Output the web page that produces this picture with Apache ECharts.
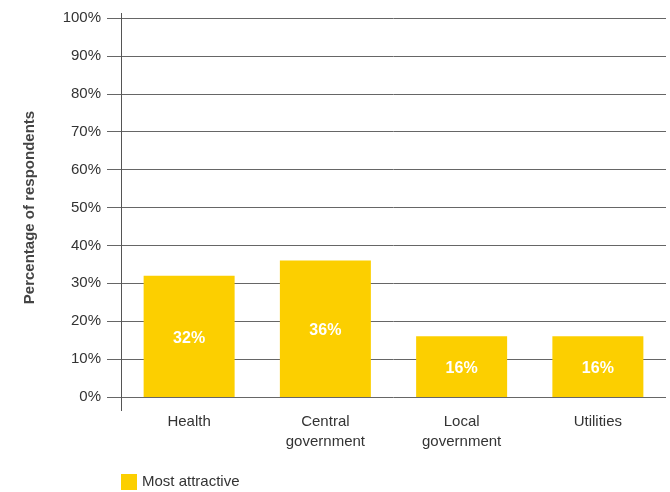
<!DOCTYPE html>
<html>
<head>
<meta charset="utf-8">
<script src="https://cdn.jsdelivr.net/npm/echarts@6/dist/echarts.min.js"></script>
<style>
  html, body { margin: 0; padding: 0; background: #fff; }
  #chart { width: 670px; height: 492px; }
</style>
</head>
<body>
<div id="chart"></div>
<script>
// 数据
var categories = ["Health", "Central\ngovernment", "Local\ngovernment", "Utilities"];
var mostAttractive = [32, 36, 16, 16];
var seriesName = "Most attractive";

(function () {
    var font = "'Liberation Sans', Arial, sans-serif";
    var myChart = echarts.init(document.getElementById("chart"));
    var option = {
        animation: false,
        textStyle: { fontFamily: font },
        grid: {
            left: 121,
            right: 4,
            top: 18,
            bottom: 95,
            containLabel: false
        },
        legend: {
            left: 116,
            top: 469,
            itemWidth: 16,
            itemHeight: 16,
            itemGap: 6,
            icon: "rect",
            textStyle: { color: "#333", fontSize: 15, fontFamily: font },
            data: [seriesName]
        },
        xAxis: {
            type: "category",
            data: categories,
            axisLine: { show: false },
            axisTick: { show: false },
            axisLabel: {
                color: "#333",
                fontSize: 15,
                lineHeight: 20,
                margin: 15,
                fontFamily: font,
                interval: 0
            }
        },
        yAxis: {
            type: "value",
            min: 0,
            max: 100,
            interval: 10,
            name: "Percentage of respondents",
            nameLocation: "middle",
            nameGap: 84,
            nameTextStyle: { color: "#444", fontSize: 15, fontWeight: "bold", fontFamily: font },
            axisLine: { show: false },
            axisTick: {
                show: true,
                length: 14,
                lineStyle: { color: "#666", width: 1 }
            },
            axisLabel: {
                color: "#333",
                fontSize: 15,
                margin: 20,
                fontFamily: font,
                formatter: "{value}%"
            },
            splitLine: { lineStyle: { color: "#666", width: 1 } }
        },
        graphic: [
            {
                type: "line",
                shape: { x1: 121.5, y1: 13, x2: 121.5, y2: 411 },
                style: { stroke: "#555", lineWidth: 1 },
                z: 100
            }
        ],
        series: [
            {
                name: seriesName,
                type: "bar",
                data: mostAttractive,
                barWidth: 91,
                itemStyle: { color: "#FCCF00" },
                label: {
                    show: true,
                    position: "inside",
                    offset: [0, 2],
                    color: "#fff",
                    fontSize: 16,
                    fontWeight: "bold",
                    fontFamily: font,
                    formatter: "{c}%"
                }
            }
        ]
    };
    myChart.setOption(option);
    window.addEventListener("resize", function () {
        myChart.resize();
    });
})();
</script>
</body>
</html>
